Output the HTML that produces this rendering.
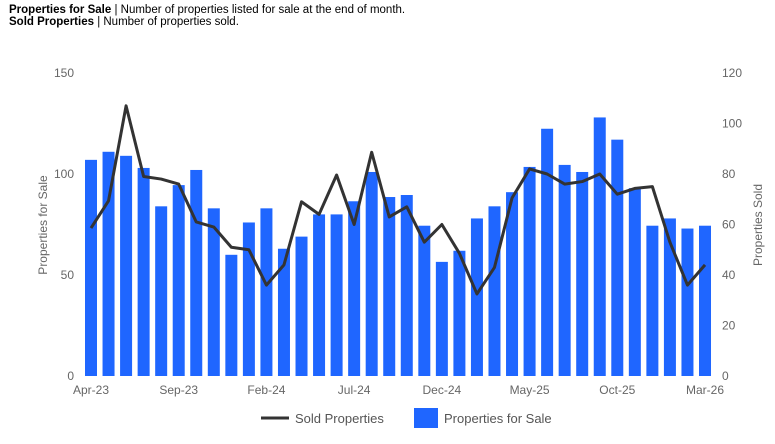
<!DOCTYPE html>
<html><head><meta charset="utf-8"><style>
body{margin:0;background:#fff;font-family:"Liberation Sans",sans-serif;}
#wrap{position:relative;width:775px;height:444px;overflow:hidden;}
.hdr{position:absolute;left:9px;font-size:11.5px;color:#000;line-height:13px;}
</style></head><body>
<div id="wrap">
<div class="hdr" style="top:4px"><b>Properties for Sale</b> | Number of properties listed for sale at the end of month.</div>
<div class="hdr" style="top:16px"><b>Sold Properties</b> | Number of properties sold.</div>
<svg id="chart" width="775" height="444" style="position:absolute;left:0;top:0"></svg>
</div>
<script>
const months=["Apr-23","May-23","Jun-23","Jul-23","Aug-23","Sep-23","Oct-23","Nov-23","Dec-23","Jan-24","Feb-24","Mar-24","Apr-24","May-24","Jun-24","Jul-24","Aug-24","Sep-24","Oct-24","Nov-24","Dec-24","Jan-25","Feb-25","Mar-25","Apr-25","May-25","Jun-25","Jul-25","Aug-25","Sep-25","Oct-25","Nov-25","Dec-25","Jan-26","Feb-26","Mar-26"];
const forSale=[107,111,109,103,84,94.5,102,83,60,76,83,63,69,80,80,86.5,101,88.6,89.6,74.4,56.5,62,78,84,91,103.5,122.4,104.5,101,128,117,93,74.4,78,73,74.4];
const sold=[58.6,69.4,107,79,78,76,61,59,51,50,36,44,69,64,79.6,60,88.6,63,67,53,60,48.6,32.5,43,70.5,82,80,76,77,80,72,74.3,75,53,36,44];
const leftTicks=[0,50,100,150];
const rightTicks=[0,20,40,60,80,100,120];
const xLabelIdx=[0,5,10,15,20,25,30,35];
const NS="http://www.w3.org/2000/svg";
const svg=document.getElementById('chart');
const x0=91,step=17.543,yBase=376,yTop=73;
const xPos=i=>x0+i*step;
const yL=v=>yBase-v/150*(yBase-yTop);
const yR=v=>yBase-v/120*(yBase-yTop);
function mk(t,a){const e=document.createElementNS(NS,t);for(const k in a)e.setAttribute(k,a[k]);svg.appendChild(e);return e;}
forSale.forEach((v,i)=>{
  const r=mk('rect',{x:xPos(i)-6,y:yL(v),width:12,height:yBase-yL(v),fill:'#1f66ff'});
  
  
});
const pl=mk('polyline',{points:sold.map((v,i)=>xPos(i)+','+yR(v)).join(' '),fill:'none',stroke:'#333',"stroke-width":3,"stroke-linejoin":'round'});


leftTicks.forEach(v=>{const t=mk('text',{x:74,y:yL(v)+4,"text-anchor":'end',"font-size":12,fill:'#666'});t.textContent=v;
  
  });
rightTicks.forEach(v=>{const t=mk('text',{x:722,y:yR(v)+4,"font-size":12,fill:'#666'});t.textContent=v;
  
  });
xLabelIdx.forEach(i=>{const t=mk('text',{x:xPos(i),y:394,"text-anchor":'middle',"font-size":12,fill:'#666'});t.textContent=months[i];
  
  });
let t=mk('text',{transform:'translate(47,225) rotate(-90)',"text-anchor":'middle',"font-size":12,fill:'#666'});t.textContent='Properties for Sale';


t=mk('text',{transform:'translate(762,225) rotate(-90)',"text-anchor":'middle',"font-size":12,fill:'#666'});t.textContent='Properties Sold';


let l=mk('line',{x1:261,y1:418,x2:289,y2:418,stroke:'#333',"stroke-width":3});


t=mk('text',{x:295,y:423,"font-size":13,fill:'#555'});t.textContent='Sold Properties';


l=mk('rect',{x:414,y:408,width:24,height:20,fill:'#1f66ff'});


t=mk('text',{x:444,y:423,"font-size":13,fill:'#555'});t.textContent='Properties for Sale';


</script>
</body></html>
